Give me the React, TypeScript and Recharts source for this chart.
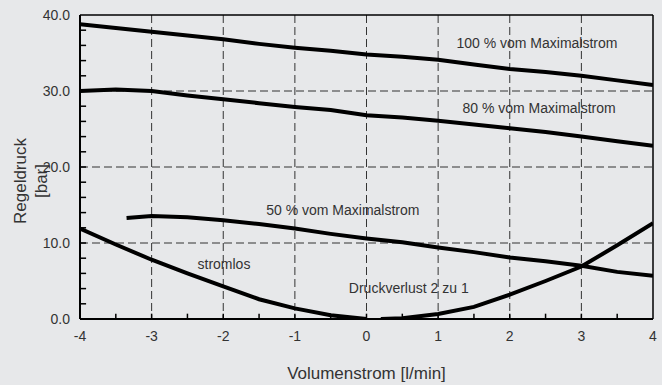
import { LineChart, Line, XAxis, YAxis, CartesianGrid, ReferenceLine, ReferenceDot, Label } from "recharts";

// Volumenstrom [l/min] / Regeldruck [bar] for each curve
const x100 = [-4, -3.5, -3, -2.5, -2, -1.5, -1, -0.5, 0, 0.5, 1, 1.5, 2, 2.5, 3, 3.5, 4];
const p100 = [38.8, 38.3, 37.8, 37.3, 36.8, 36.2, 35.7, 35.3, 34.8, 34.5, 34.1, 33.5, 32.9, 32.5, 32.0, 31.4, 30.8];

const x80 = [-4, -3.5, -3, -2.5, -2, -1.5, -1, -0.5, 0, 0.5, 1, 1.5, 2, 2.5, 3, 3.5, 4];
const p80 = [30.0, 30.2, 30.0, 29.4, 28.9, 28.4, 27.9, 27.5, 26.8, 26.5, 26.1, 25.6, 25.1, 24.6, 24.0, 23.4, 22.8];

const x50 = [-3.35, -3, -2.5, -2, -1.5, -1, -0.5, 0, 0.5, 1, 1.5, 2, 2.5, 3, 3.5, 4];
const p50 = [13.3, 13.55, 13.4, 13.0, 12.5, 11.9, 11.2, 10.6, 10.1, 9.4, 8.8, 8.1, 7.6, 7.0, 6.2, 5.7];

const xStromlos = [-4, -3.5, -3, -2.5, -2, -1.5, -1, -0.5, 0];
const pStromlos = [11.9, 9.8, 7.8, 6.0, 4.3, 2.6, 1.4, 0.5, 0.0];

const xVerlust = [0.2, 0.5, 1, 1.5, 2, 2.5, 3, 3.5, 4];
const pVerlust = [0.0, 0.1, 0.65, 1.6, 3.2, 5.0, 6.9, 9.7, 12.6];

const xTicks = [-4, -3, -2, -1, 0, 1, 2, 3, 4];
const yTicks = [0, 10, 20, 30, 40];
const xMinor = [-3.5, -3, -2.5, -2, -1.5, -1, -0.5, 0, 0.5, 1, 1.5, 2, 2.5, 3, 3.5];
const yMinor = [2, 4, 6, 8, 10, 12, 14, 16, 18, 20, 22, 24, 26, 28, 30, 32, 34, 36, 38];
const gridX = [-3, -2, -1, 0, 1, 2, 3];
const gridY = [10, 20, 30];

const curveLabels = [
  { x: 2.38, y: 36.3, text: "100 % vom Maximalstrom" },
  { x: 2.41, y: 27.7, text: "80 % vom Maximalstrom" },
  { x: -0.33, y: 14.4, text: "50 % vom Maximalstrom" },
  { x: -1.99, y: 7.2, text: "stromlos" },
  { x: 0.59, y: 4.1, text: "Druckverlust 2 zu 1" },
];

const toPoints = (xs: number[], ps: number[]) => xs.map((x, i) => ({ x, p: ps[i] }));

const series = [
  toPoints(x100, p100),
  toPoints(x80, p80),
  toPoints(x50, p50),
  toPoints(xStromlos, pStromlos),
  toPoints(xVerlust, pVerlust),
];

const FONT = "'Liberation Sans', Arial, sans-serif";
const TEXT = "#333";

// inward minor tick length, in axis units (~5-6px)
const X_TICK_LEN = 0.085;
const Y_TICK_LEN = 0.7;

export default function App() {
  return (
    <div style={{ position: "absolute", left: 0, top: 0, width: 662, height: 385, background: "#e7e8ea" }}>
      <LineChart width={662} height={385} margin={{ top: 15, right: 9, bottom: 0, left: 20 }}>
        <CartesianGrid
          horizontal={false}
          vertical
          verticalValues={gridX}
          stroke="#333"
          strokeDasharray="8 4"
        />
        <CartesianGrid
          horizontal
          vertical={false}
          horizontalValues={gridY}
          stroke="#333"
          strokeDasharray="8 4"
        />
        <XAxis
          type="number"
          dataKey="x"
          domain={[-4, 4]}
          ticks={xTicks}
          interval={0}
          height={66}
          stroke="#000"
          strokeWidth={2}
          tickLine={false}
          tickMargin={6}
          tick={{ fontSize: 14, fontFamily: FONT, fill: TEXT }}
          allowDataOverflow
        >
          <Label
            value="Volumenstrom [l/min]"
            position="insideBottom"
            offset={6}
            fontSize={17}
            fontFamily={FONT}
            fill={TEXT}
          />
        </XAxis>
        <YAxis
          type="number"
          dataKey="p"
          domain={[0, 40]}
          ticks={yTicks}
          interval={0}
          width={60}
          stroke="#000"
          strokeWidth={2}
          tickLine={false}
          tickMargin={4}
          tickFormatter={(v: number) => v.toFixed(1)}
          tick={{ fontSize: 14, fontFamily: FONT, fill: TEXT }}
          allowDataOverflow
        >
          <Label
            content={() => (
              <text
                transform="rotate(-90 31 181)"
                x={31}
                y={181}
                textAnchor="middle"
                fontSize={17}
                fontFamily={FONT}
                fill={TEXT}
              >
                <tspan x={31} dy={-5}>Regeldruck</tspan>
                <tspan x={31} dy={21}>[bar]</tspan>
              </text>
            )}
          />
        </YAxis>
        <ReferenceLine y={40} stroke="#000" strokeWidth={1.5} />
        <ReferenceLine x={4} stroke="#000" strokeWidth={1.5} />
        {xMinor.map((v) => (
          <ReferenceLine
            key={`xm${v}`}
            segment={[{ x: v, y: 0 }, { x: v, y: Y_TICK_LEN }]}
            stroke="#000"
            strokeWidth={1.5}
            ifOverflow="visible"
          />
        ))}
        {yMinor.map((v) => (
          <ReferenceLine
            key={`ym${v}`}
            segment={[{ x: -4, y: v }, { x: -4 + X_TICK_LEN, y: v }]}
            stroke="#000"
            strokeWidth={1.5}
            ifOverflow="visible"
          />
        ))}
        {series.map((d, i) => (
          <Line
            key={i}
            data={d}
            dataKey="p"
            type="linear"
            stroke="#000"
            strokeWidth={4}
            dot={false}
            activeDot={false}
            isAnimationActive={false}
          />
        ))}
        {curveLabels.map((l) => (
          <ReferenceDot
            key={l.text}
            x={l.x}
            y={l.y}
            r={0}
            fill="none"
            stroke="none"
            label={{ value: l.text, position: "center", fontSize: 14, fontFamily: FONT, fill: TEXT }}
          />
        ))}
      </LineChart>
    </div>
  );
}
